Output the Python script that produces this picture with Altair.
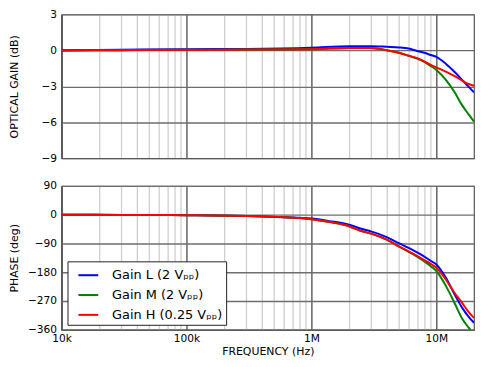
import altair as alt
import pandas as pd

SERIES = ["Gain L (2 Vₚₚ)", "Gain M (2 Vₚₚ)", "Gain H (0.25 Vₚₚ)"]
COLORS = ["#0000ff", "#008000", "#ff0000"]

# Optical gain (dB)
gain_freq = [1e4, 3e4, 1e5, 3e5, 1e6, 2e6, 3e6, 4e6, 5e6, 6e6, 7e6, 8e6, 9e6,
             1e7, 1.2e7, 1.4e7, 1.6e7, 1.8e7, 2e7]
gain_L = [0.02, 0.05, 0.1, 0.12, 0.22, 0.35, 0.35, 0.3, 0.25, 0.15, -0.05, -0.2, -0.38,
          -0.54, -1.15, -1.8, -2.45, -3.0, -3.5]
gain_M = [0.0, 0.02, 0.05, 0.07, 0.1, 0.2, 0.2, 0.02, -0.2, -0.45, -0.68, -0.95, -1.3,
          -1.63, -2.5, -3.5, -4.55, -5.3, -5.95]
gain_H = [0.0, 0.02, 0.05, 0.07, 0.1, 0.2, 0.2, 0.02, -0.2, -0.45, -0.65, -0.92, -1.2,
          -1.42, -1.8, -2.15, -2.5, -2.8, -2.95]

# Phase (deg)
phase_freq = [1e4, 3e4, 1e5, 3e5, 6e5, 1e6, 1.4e6, 2e6, 2.5e6, 3e6, 4e6, 5e6, 6e6, 7e6,
              8e6, 9e6, 1e7, 1.2e7, 1.4e7, 1.6e7, 1.8e7, 2e7]
phase_L = [0, -0.5, -1.5, -4, -8, -12, -20, -31, -44, -52, -70, -89, -104, -118,
           -131, -144, -156, -200, -250, -290, -318, -338]
phase_H = [0, -0.5, -1.5, -4, -8, -14, -23, -36, -51, -59, -78, -99, -115, -129,
           -142, -154, -166, -205, -245, -275, -303, -323]
phase_freq_M = [1e4, 3e4, 1e5, 3e5, 6e5, 1e6, 1.4e6, 2e6, 2.5e6, 3e6, 4e6, 5e6, 6e6, 7e6,
                8e6, 9e6, 1e7, 1.2e7, 1.4e7, 1.6e7, 1.8e7, 1.87e7]
phase_M = [0, -0.5, -1.5, -4, -8, -14, -23, -36, -51, -59, -78, -99, -116, -131,
           -146, -161, -176, -225, -277, -324, -352, -360]

X_TICKS = [m * 10 ** e for e in (4, 5, 6) for m in range(1, 10)] + [10 ** 7]
GAIN_TICKS = [-9, -6, -3, 0, 3]
PHASE_TICKS = [-360, -270, -180, -90, 0, 90]


def long_df(freqs_list, values_list):
    rows = []
    for name, fr, vals in zip(SERIES, freqs_list, values_list):
        for f, v in zip(fr, vals):
            rows.append({"series": name, "freq": f, "value": v})
    return pd.DataFrame(rows)


gain_df = long_df([gain_freq, gain_freq, gain_freq], [gain_L, gain_M, gain_H])
phase_df = long_df([phase_freq, phase_freq_M, phase_freq], [phase_L, phase_M, phase_H])

MAJOR = "abs(log(datum.value)/LN10 - round(log(datum.value)/LN10)) < 0.01"
GRID_COLOR = {"condition": {"test": MAJOR, "value": "#4a4a4a"}, "value": "#cfcfcf"}
LABELS = ("datum.value == 10000 ? '10k' : datum.value == 100000 ? '100k' : "
          "datum.value == 1000000 ? '1M' : datum.value == 10000000 ? '10M' : ''")

xscale = alt.Scale(type="log", domain=[1e4, 2e7], nice=False)
cscale = alt.Scale(domain=SERIES, range=COLORS)

top = alt.Chart(gain_df).mark_line(strokeWidth=2, interpolate="monotone", clip=True).encode(
    x=alt.X("freq:Q", scale=xscale,
            axis=alt.Axis(values=X_TICKS, labels=False, ticks=False, title=None,
                          gridColor=GRID_COLOR, labelOverlap=False)),
    y=alt.Y("value:Q", scale=alt.Scale(domain=[-9, 3], nice=False, zero=False),
            axis=alt.Axis(values=GAIN_TICKS, title="OPTICAL GAIN (dB)", titlePadding=21.5)),
    color=alt.Color("series:N", scale=cscale, legend=None),
).properties(width=416, height=145)

bottom = alt.Chart(phase_df).mark_line(strokeWidth=2, interpolate="monotone", clip=True).encode(
    x=alt.X("freq:Q", scale=xscale,
            axis=alt.Axis(values=X_TICKS, labelExpr=LABELS, title="FREQUENCY (Hz)",
                          gridColor=GRID_COLOR, labelOverlap=False, labelFlush=False,
                          labelPadding=4, titlePadding=2)),
    y=alt.Y("value:Q", scale=alt.Scale(domain=[-360, 90], nice=False, zero=False),
            axis=alt.Axis(values=PHASE_TICKS, title="PHASE (deg)", titlePadding=8)),
    color=alt.Color("series:N", scale=cscale,
                    legend=alt.Legend(orient="none", legendX=6, legendY=76, title=None,
                                      symbolType="stroke", symbolSize=400,
                                      symbolStrokeWidth=2, symbolOffset=7,
                                      labelOffset=13, labelFontSize=13,
                                      labelFont="DejaVu Sans", labelColor="black",
                                      labelLimit=300, padding=3, rowPadding=2,
                                      strokeColor="#222222", fillColor="white",
                                      cornerRadius=0)),
).properties(width=416, height=145)

chart = alt.vconcat(top, bottom, spacing=28, bounds="flush").resolve_legend(
    color="independent"
).properties(
    padding={"left": 0, "top": -2, "right": 0, "bottom": 0}
).configure_view(
    stroke="#555555", strokeWidth=1.2
).configure_axis(
    labelFont="DejaVu Sans", labelFontSize=10.7, labelColor="black",
    titleFont="DejaVu Sans", titleFontSize=11, titleFontWeight="normal", titleColor="black",
    domainColor="#555555", ticks=False, tickSize=0, labelPadding=5, gridWidth=1.3
).configure_axisY(
    gridColor="#6e6e6e"
)

chart.save("out.html", embed_options={"renderer": "svg", "actions": False})
